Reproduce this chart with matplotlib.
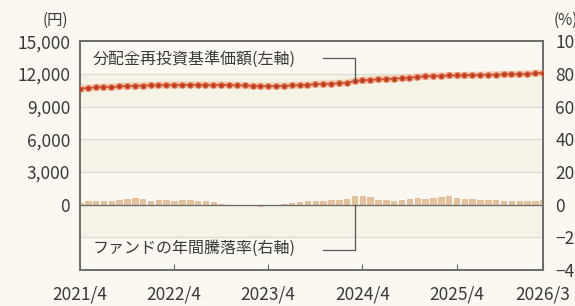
import matplotlib
matplotlib.use("Agg")
import numpy as np
import matplotlib.pyplot as plt
from matplotlib.ticker import FuncFormatter

plt.rcParams['font.family'] = ['Noto Sans CJK JP', 'DejaVu Sans']

# monthly data, 2021/4 .. 2026/3
nav = [10650, 10700, 10750, 10800, 10780, 10850, 10880, 10900, 10920, 10950,
       10960, 10980, 10970, 11000, 10990, 11000, 10980, 10970, 10990, 10970,
       10950, 10930, 10900, 10880, 10870, 10880, 10900, 10930, 10960, 11000,
       11050, 11080, 11100, 11130, 11180, 11350, 11400, 11450, 11480, 11520,
       11560, 11600, 11650, 11720, 11780, 11800, 11820, 11850, 11850, 11870,
       11880, 11900, 11920, 11930, 11950, 11960, 11980, 12000, 12050, 12100]
ret = [1.0, 2.0, 2.5, 2.0, 2.5, 3.0, 3.5, 4.0, 3.5, 2.5,
       3.0, 3.0, 2.5, 3.0, 3.0, 2.5, 2.0, 1.5, 0.5, -0.5,
       -0.5, 0.0, -0.5, -1.0, -0.5, 0.0, 0.5, 1.0, 1.5, 2.0,
       2.0, 2.5, 3.0, 3.0, 3.5, 5.0, 5.5, 4.5, 3.0, 3.0,
       2.5, 3.0, 3.5, 4.0, 3.5, 4.0, 4.5, 5.0, 4.0, 3.5,
       3.5, 3.0, 3.0, 3.0, 2.5, 2.5, 2.0, 2.0, 2.5, 3.0]
tick_pos = [0, 12, 24, 36, 48, 59]
tick_labels = ["2021/4", "2022/4", "2023/4", "2024/4", "2025/4", "2026/3"]
left_ticks = [0, 3000, 6000, 9000, 12000, 15000]
right_ticks = [-40, -20, 0, 20, 40, 60, 80, 100]

months = np.arange(len(nav))
bg = "#fbf8f2"
txt = "#3a3a3a"

fig = plt.figure(figsize=(5.75, 3.06), dpi=100)
fig.patch.set_facecolor(bg)
ax = fig.add_axes([0.139, 0.1176, 0.805, 0.748])

ax2 = ax.twinx()
ax2.set_facecolor("white")
# alternating bands + grid (drawn in % units on the back axes)
for lo in [-20, 20, 60]:
    ax2.axhspan(lo, lo + 20, color="#f5f2e6", zorder=0, lw=0)
for g in range(-20, 100, 20):
    ax2.axhline(g, color="#dcdcd4", lw=0.9, zorder=1)

ax2.bar(months, ret, width=0.7, color="#e0b384", edgecolor="#cf9a68",
        linewidth=0.4, alpha=0.8, zorder=3)
ax2.axhline(0, color="#6a6a6a", lw=0.9, zorder=4)

ax.set_zorder(ax2.get_zorder() + 1)
ax.patch.set_visible(False)

ax.plot(months, nav, color="#f3a57a", lw=5, alpha=0.45, zorder=5,
        solid_capstyle="round")
ax.plot(months, nav, color="#c8462a", lw=1.2, marker="o", markersize=3.6,
        markerfacecolor="#b83a22", markeredgecolor="#d8603a", zorder=6)

ax.set_xlim(0, 59)
ax.set_ylim(-6000, 15000)
ax2.set_ylim(-40, 100)

ax.set_yticks(left_ticks)
ax.yaxis.set_major_formatter(FuncFormatter(lambda v, p: f"{int(v):,}"))
ax2.set_yticks(right_ticks)
ax.set_xticks(tick_pos)
ax.set_xticklabels(tick_labels)

ax.tick_params(axis="y", length=0, pad=7, labelsize=12.5, labelcolor=txt)
ax2.tick_params(axis="y", length=0, pad=9, labelsize=12.5, labelcolor=txt)
ax.tick_params(axis="x", direction="in", length=4, color="#666666",
               pad=11, labelsize=12.5, labelcolor=txt)
ax2.tick_params(axis="x", length=0)

for a in (ax, ax2):
    for s in a.spines.values():
        s.set_color("#6c6c6c")
        s.set_linewidth(1.2)

# annotations
ax.text(1.6, 13300, "分配金再投資基準価額(左軸)", fontsize=11.5, color=txt,
        va="center", ha="left", zorder=7)
ax.plot([31.0, 35, 35], [13450, 13450, nav[35]], color="#555555", lw=0.9, zorder=7)
ax.text(1.6, -4050, "ファンドの年間騰落率(右軸)", fontsize=11.5, color=txt,
        va="center", ha="left", zorder=7)
ax.plot([31.0, 35, 35], [-4160, -4160, 0], color="#555555", lw=0.9, zorder=7)

fig.text(0.118, 0.935, "(円)", fontsize=11, color=txt, ha="right", va="center")
fig.text(0.962, 0.935, "(%)", fontsize=11, color=txt, ha="left", va="center")

fig.savefig("out.png", dpi=100, facecolor=bg)
